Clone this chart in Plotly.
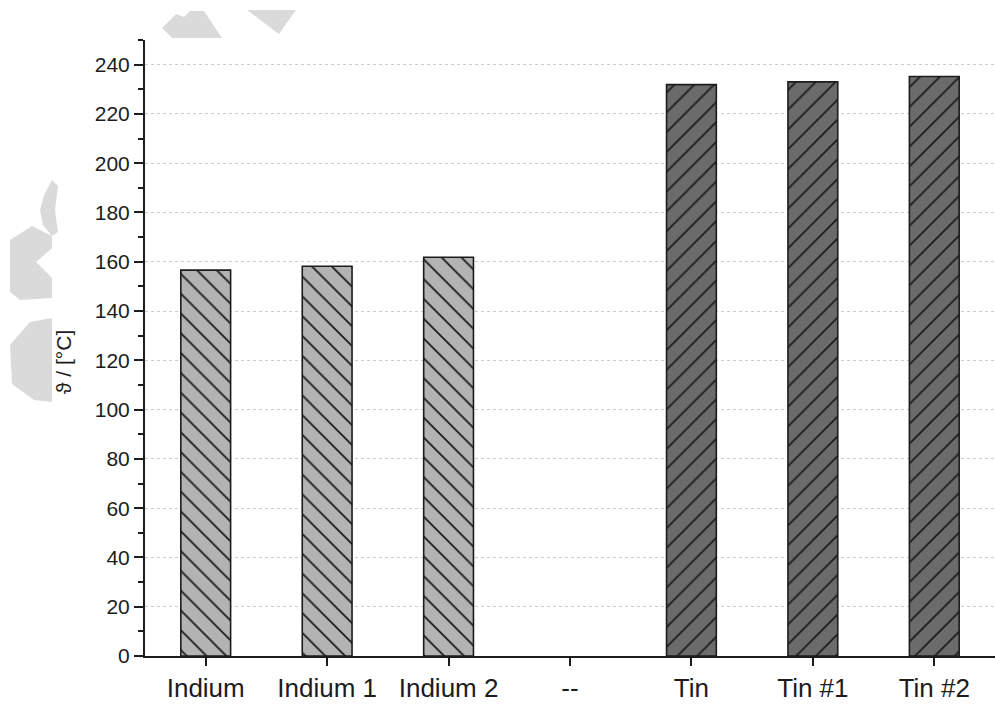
import plotly.graph_objects as go

# Melting temperatures of the indium and tin samples
categories = ["Indium", "Indium 1", "Indium 2", "--", "Tin", "Tin #1", "Tin #2"]
indium_labels = ["Indium", "Indium 1", "Indium 2"]
indium_values = [156.6, 158.2, 161.8]
tin_labels = ["Tin", "Tin #1", "Tin #2"]
tin_values = [231.9, 233.0, 235.2]
y_ticks = list(range(0, 241, 20))

FONT = "Liberation Sans, Arial, sans-serif"
INK = "#1c1c1c"

fig = go.Figure()

fig.add_trace(go.Bar(
    x=indium_labels, y=indium_values, width=0.41,
    marker=dict(
        color="#b3b3b3",
        line=dict(color=INK, width=1.6),
        pattern=dict(shape="\\", fgcolor=INK, bgcolor="#b3b3b3",
                     size=14, solidity=0.13, fillmode="replace"),
    ),
    showlegend=False,
))
fig.add_trace(go.Bar(
    x=tin_labels, y=tin_values, width=0.41,
    marker=dict(
        color="#6b6b6b",
        line=dict(color=INK, width=1.6),
        pattern=dict(shape="/", fgcolor=INK, bgcolor="#6b6b6b",
                     size=14, solidity=0.13, fillmode="replace"),
    ),
    showlegend=False,
))

L, R, T, B = 145, 0, 40, 48
W, H = 995, 704
pw, ph = W - L - R, H - T - B


def px(x, y):
    """Pixel position -> paper coordinates."""
    return (x - L) / pw, (H - B - y) / ph


def poly(points):
    parts = []
    for i, (x, y) in enumerate(points):
        u, v = px(x, y)
        parts.append(("M" if i == 0 else "L") + f"{u:.4f},{v:.4f}")
    return " ".join(parts) + " Z"


# faint grey logo in the background
logo = [
    [(162, 28), (176, 14), (184, 17), (190, 11), (204, 11), (222, 38), (172, 38)],
    [(247, 10), (296, 10), (279, 34)],
    [(52, 180), (44, 195), (40, 210), (43, 225), (52, 236), (58, 232), (55, 210), (58, 186)],
    [(10, 240), (32, 226), (52, 236), (52, 248), (36, 262), (52, 278), (52, 298),
     (20, 300), (10, 292)],
    [(10, 345), (30, 322), (52, 318), (52, 402), (34, 400), (12, 384)],
]
shapes = [dict(type="path", xref="paper", yref="paper", path=poly(p),
               fillcolor="#dadada", line=dict(width=0), layer="below")
          for p in logo]

fig.update_layout(
    width=W, height=H,
    margin=dict(l=L, r=R, t=T, b=B),
    paper_bgcolor="white", plot_bgcolor="white",
    font=dict(family=FONT, size=21, color=INK),
    bargap=0.59,
    shapes=shapes,
    xaxis=dict(
        type="category", categoryorder="array", categoryarray=categories,
        range=[-0.5, 6.5],
        showline=True, linecolor=INK, linewidth=2,
        ticks="outside", ticklen=8, tickwidth=2, tickcolor=INK,
        showgrid=False, zeroline=False,
        tickfont=dict(family=FONT, size=26, color=INK),
    ),
    yaxis=dict(
        range=[0, 250],
        tickvals=y_ticks,
        showline=True, linecolor=INK, linewidth=2,
        ticks="outside", ticklen=9, tickwidth=2, tickcolor=INK,
        minor=dict(dtick=10, ticks="outside", ticklen=5, tickwidth=2,
                   tickcolor=INK, showgrid=False),
        showgrid=True, gridcolor="#cccccc", griddash="dot", gridwidth=1,
        zeroline=False,
        tickfont=dict(family=FONT, size=21, color=INK),
    ),
    annotations=[dict(
        text="ϑ / [°C]", textangle=-90, showarrow=False,
        xref="paper", yref="paper",
        x=px(63, 362)[0], y=px(63, 362)[1],
        xanchor="center", yanchor="middle",
        font=dict(family=FONT, size=21, color=INK),
    )],
)

fig.write_html("out.html")
